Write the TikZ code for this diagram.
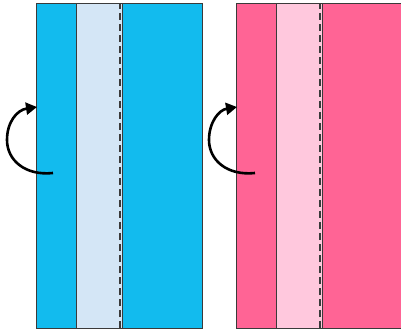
\documentclass[tikz,border=0pt]{standalone}
\usetikzlibrary{arrows.meta}
\definecolor{bluemain}{HTML}{12BBEE}
\definecolor{bluelight}{HTML}{D4E6F6}
\definecolor{pinkmain}{HTML}{FF6495}
\definecolor{pinklight}{HTML}{FFC8DD}
\definecolor{edge}{HTML}{3A3A3A}
\tikzset{
  panel/.style={draw=edge,line width=1pt},
  fold/.style={draw=edge,line width=1.5pt,dash pattern=on 7pt off 4pt},
  turn/.style={line width=2.6pt,-{Triangle[length=11pt,width=12pt]}},
}
\begin{document}
\begin{tikzpicture}[x=1pt,y=1pt]
\useasboundingbox (0,0) rectangle (401,332);
\clip (0,0) rectangle (401,332);
% blue panel
\filldraw[panel,fill=bluemain] (36,4) rectangle (202,328);
\filldraw[panel,fill=bluelight] (76,4) rectangle (122,328);
\draw[fold] (120,4) -- (120,328);
% pink panel
\filldraw[panel,fill=pinkmain] (236,4) rectangle (420,328);
\filldraw[panel,fill=pinklight] (276,4) rectangle (322,328);
\draw[fold] (320,4) -- (320,328);
% arrows
\draw[turn] (53,159) .. controls (25,156) and (7,172) .. (7,192) .. controls (7,210) and (17,222) .. (37,225);
\draw[turn] (255,159) .. controls (227,156) and (209,172) .. (209,192) .. controls (209,210) and (219,222) .. (237,225);
\end{tikzpicture}
\end{document}
